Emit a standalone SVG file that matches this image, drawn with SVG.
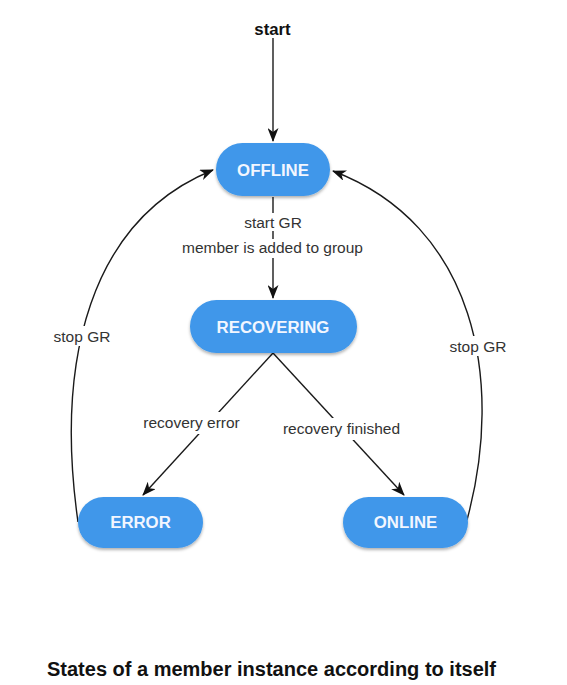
<svg xmlns="http://www.w3.org/2000/svg" width="567" height="685" viewBox="0 0 567 685">
  <defs>
    <marker id="arr" viewBox="0 0 14 11" refX="13" refY="5.5" markerWidth="14" markerHeight="11" markerUnits="userSpaceOnUse" orient="auto">
      <path d="M0,0 L14,5.5 L0,11 L4,5.5 z" fill="#111"/>
    </marker>
    <filter id="sh" x="-20%" y="-20%" width="140%" height="160%">
      <feDropShadow dx="0" dy="2" stdDeviation="1.5" flood-color="#000" flood-opacity="0.3"/>
    </filter>
  </defs>
  <style>
    .node { fill: #3f97ea; filter: url(#sh); }
    .ntext { font-family: "Liberation Sans", Arial, sans-serif; font-weight: bold; font-size: 16.8px; fill: #f2f6ff; text-anchor: middle; }
    .edge { fill: none; stroke: #1a1a1a; stroke-width: 1.4; marker-end: url(#arr); }
    .lbl { font-family: "Liberation Sans", Arial, sans-serif; font-size: 15.5px; fill: #333333; text-anchor: middle; }
    .bg { fill: #ffffff; }
    .title { font-family: "Liberation Sans", Arial, sans-serif; font-weight: bold; font-size: 20px; fill: #111; text-anchor: middle; }
  </style>
  <rect width="567" height="685" fill="#ffffff"/>

  <g id="connectors">
    <path class="edge" d="M273,38 L273,141"/>
    <path class="edge" d="M273,197 L273,298"/>
    <path class="edge" d="M273,353 L143,495"/>
    <path class="edge" d="M273,353 L404,495"/>
    <path class="edge" d="M78,522 C55,360 90,220 213,170"/>
    <path class="edge" d="M467,520 C505,380 475,225 333,171"/>
    <rect class="bg" x="240" y="213" width="66" height="18"/>
    <rect class="bg" x="177" y="239" width="192" height="19"/>
    <rect class="bg" x="50" y="326" width="64" height="20"/>
    <rect class="bg" x="446" y="336" width="64" height="20"/>
    <rect class="bg" x="140" y="412" width="104" height="22"/>
    <rect class="bg" x="280" y="418" width="124" height="22"/>
    <text class="lbl" x="273" y="228">start GR</text>
    <text class="lbl" x="272.5" y="253">member is added to group</text>
    <text class="lbl" x="82" y="341.5">stop GR</text>
    <text class="lbl" x="478" y="351.5">stop GR</text>
    <text class="lbl" x="191.5" y="428">recovery error</text>
    <text class="lbl" x="341.5" y="434">recovery finished</text>
  </g>

  <g id="start">
    <text x="272.5" y="35" font-family="Liberation Sans, Arial, sans-serif" font-weight="bold" font-size="16.8" fill="#111" text-anchor="middle">start</text>
  </g>
  <g id="offline">
    <rect class="node" x="216" y="143" width="114" height="53" rx="26.5"/>
    <text class="ntext" x="273" y="176">OFFLINE</text>
  </g>
  <g id="recovering">
    <rect class="node" x="190" y="300" width="167" height="53" rx="26.5"/>
    <text class="ntext" x="273" y="332.7">RECOVERING</text>
  </g>
  <g id="error">
    <rect class="node" x="78" y="497" width="125" height="51" rx="25.5"/>
    <text class="ntext" x="140.5" y="528.3">ERROR</text>
  </g>
  <g id="online">
    <rect class="node" x="343" y="497" width="125" height="51" rx="25.5"/>
    <text class="ntext" x="405.5" y="528.3">ONLINE</text>
  </g>
  <g id="caption">
    <text class="title" x="271.5" y="676">States of a member instance according to itself</text>
  </g>
</svg>
